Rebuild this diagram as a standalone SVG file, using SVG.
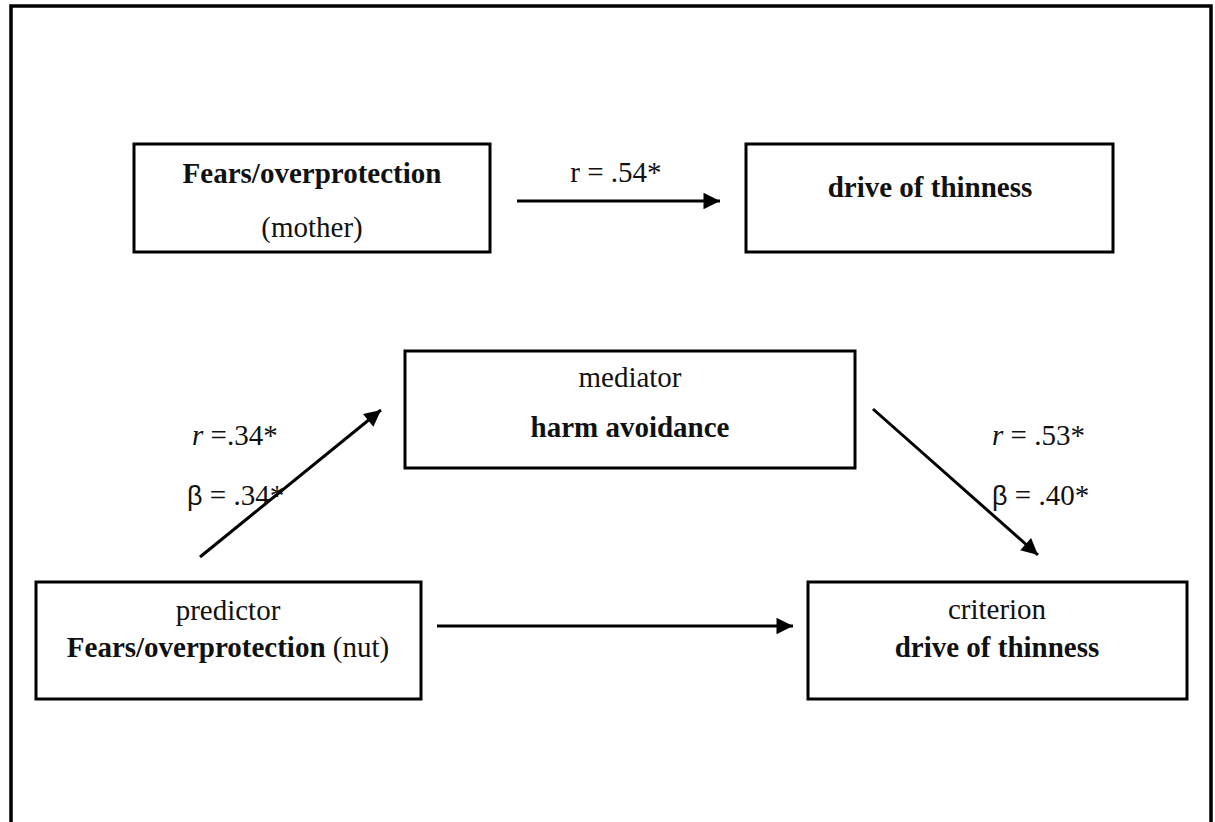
<svg xmlns="http://www.w3.org/2000/svg" width="1215" height="822" viewBox="0 0 1215 822">
<style>
  .box { fill: #fff; stroke: #000; stroke-width: 3; }
  .t { font-family: "Liberation Serif", "Times New Roman", serif; font-size: 29px; fill: #111; }
  .b { font-weight: bold; }
  .sym { font-family: "Liberation Sans", Arial, sans-serif; font-size: 27px; }
  .conn { stroke: #000; stroke-width: 3; fill: none; marker-end: url(#ah); }
</style>
<defs>
  <marker id="ah" viewBox="0 0 10 10" refX="10" refY="5" markerWidth="7" markerHeight="5.5" markerUnits="strokeWidth" orient="auto">
    <path d="M0,0 L10,5 L0,10 Z" fill="#000"/>
  </marker>
</defs>
<rect width="1215" height="822" fill="#fff"/>
<path id="frame" d="M11,822 V6 H1211 V822" fill="none" stroke="#000" stroke-width="3.5"/>

<g id="connectors">
  <line class="conn" x1="517" y1="201" x2="720" y2="201"/>
  <line class="conn" x1="200" y1="557" x2="381" y2="410"/>
  <line class="conn" x1="873" y1="409" x2="1038" y2="555"/>
  <line class="conn" x1="437" y1="626" x2="793" y2="626"/>
  <text class="t" x="616" y="182" text-anchor="middle">r = .54*</text>
  <text class="t" x="192" y="445"><tspan font-style="italic">r</tspan> =.34*</text>
  <text class="t" x="187" y="505"><tspan class="sym">β</tspan> = .34*</text>
  <text class="t" x="992" y="445"><tspan font-style="italic">r</tspan> = .53*</text>
  <text class="t" x="992" y="505"><tspan class="sym">β</tspan> = .40*</text>
</g>

<g id="node-fears-mother">
  <rect class="box" x="134" y="144" width="356" height="108"/>
  <text class="t b" x="312" y="183" text-anchor="middle">Fears/overprotection</text>
  <text class="t" x="312" y="237" text-anchor="middle">(mother)</text>
</g>

<g id="node-drive-top">
  <rect class="box" x="746" y="144" width="367" height="108"/>
  <text class="t b" x="930" y="197" text-anchor="middle">drive of thinness</text>
</g>

<g id="node-mediator">
  <rect class="box" x="405" y="351" width="450" height="117"/>
  <text class="t" x="630" y="387" text-anchor="middle">mediator</text>
  <text class="t b" x="630" y="437" text-anchor="middle">harm avoidance</text>
</g>

<g id="node-predictor">
  <rect class="box" x="36" y="582" width="385" height="117"/>
  <text class="t" x="228" y="620" text-anchor="middle">predictor</text>
  <text class="t" x="228" y="657" text-anchor="middle"><tspan class="b">Fears/overprotection</tspan> (nut)</text>
</g>

<g id="node-criterion">
  <rect class="box" x="808" y="582" width="379" height="117"/>
  <text class="t" x="997" y="619" text-anchor="middle">criterion</text>
  <text class="t b" x="997" y="657" text-anchor="middle">drive of thinness</text>
</g>
</svg>
